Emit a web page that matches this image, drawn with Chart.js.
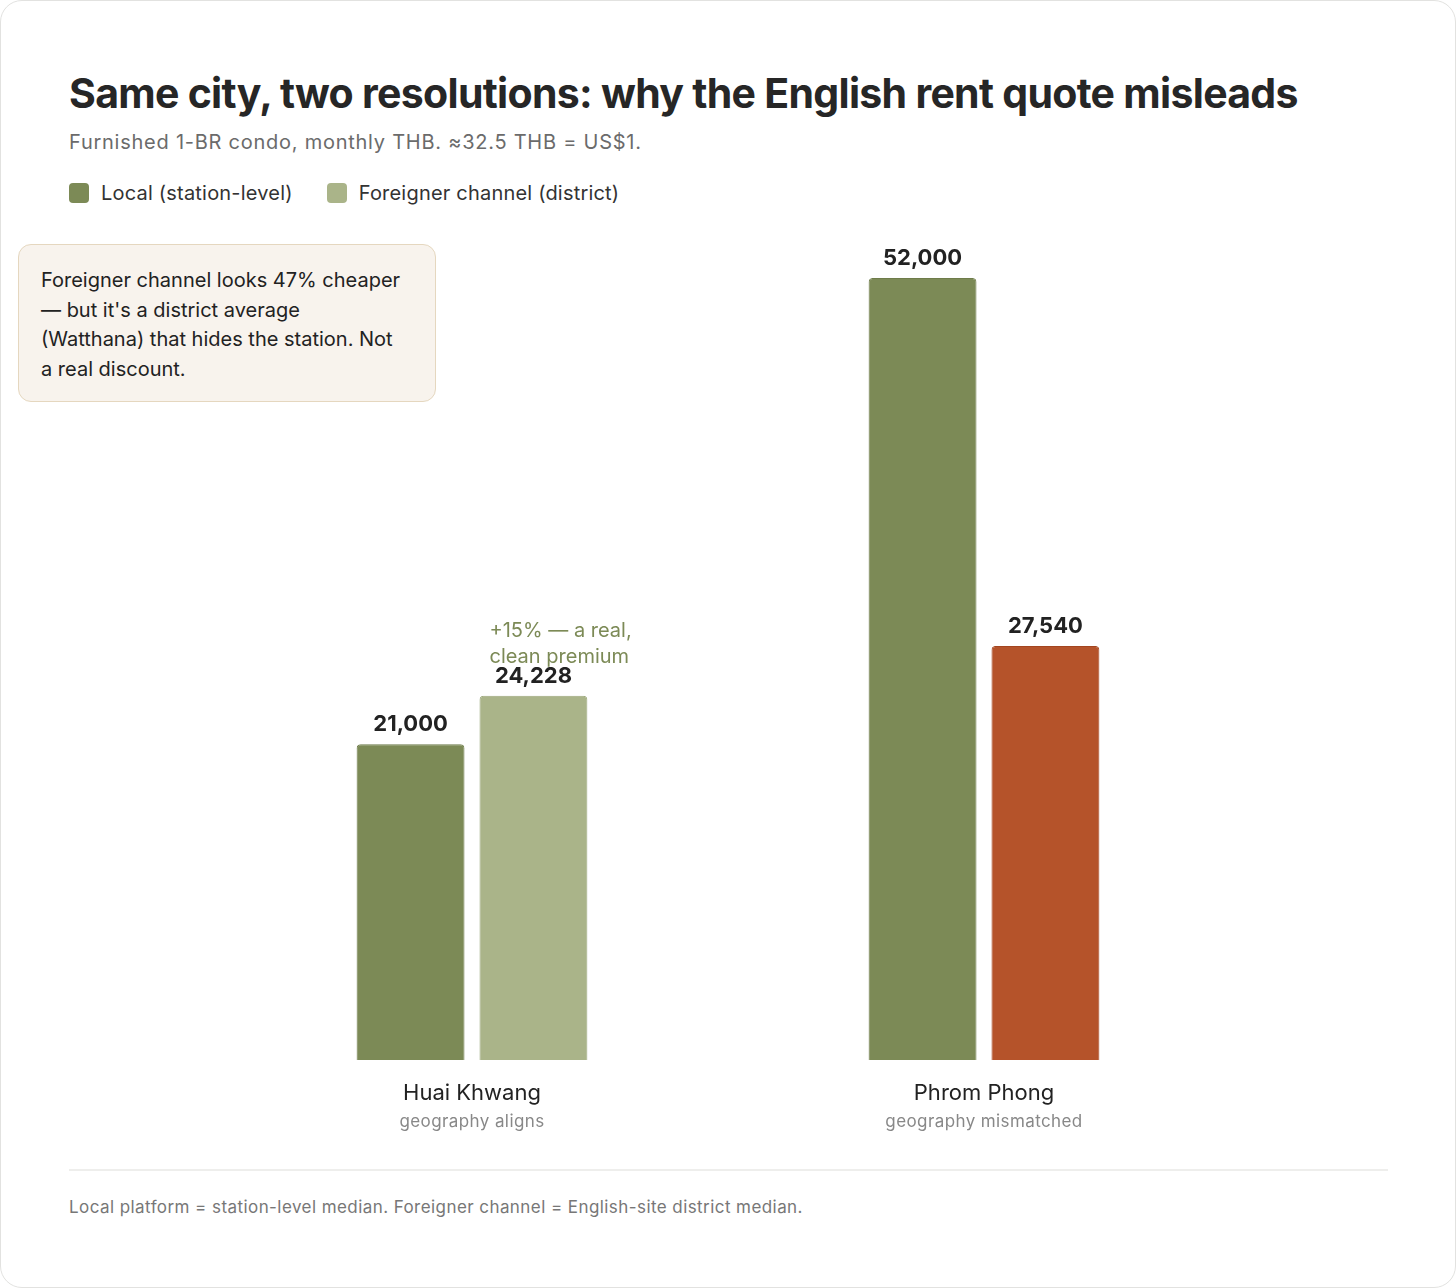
<!DOCTYPE html>
<html>
<head>
<meta charset="utf-8">
<script src="https://cdn.jsdelivr.net/npm/chart.js@4"></script>
<style>
  html, body { margin: 0; padding: 0; background: #fff; }
  body { width: 1456px; height: 1288px; position: relative; font-family: Inter, "Noto Sans", sans-serif; overflow: hidden; }
  .card { position: absolute; left: 0; top: 0; width: 1454px; height: 1286px; border: 1px solid #e2e2e0; border-radius: 22px; background: #fff; }
  h1 { position: absolute; left: 69px; top: 68px; margin: 0; font-size: 41px; font-weight: 700; color: #262626; letter-spacing: -0.7px; line-height: 50px; white-space: nowrap; }
  .sub { position: absolute; left: 69px; top: 129px; font-size: 20px; color: #6b6b6b; line-height: 26px; letter-spacing: 0.75px; white-space: nowrap; }
  .legend { position: absolute; left: 69px; top: 180px; display: flex; gap: 34px; font-size: 20px; color: #333; line-height: 26px; letter-spacing: 0.2px; }
  .legend span { display: flex; align-items: center; }
  .legend i { width: 20px; height: 20px; border-radius: 4px; margin-right: 12px; display: inline-block; }
  .callout { position: absolute; left: 18px; top: 244px; width: 372px; height: 114px; padding: 21px 22px 21px 22px; background: #f8f3ed; border: 1px solid #e5d7bf; border-radius: 13px; font-size: 20px; line-height: 29.5px; color: #222; white-space: nowrap; }
  #wrap { position: absolute; left: 0; top: 230px; width: 1456px; height: 920px; }
  .rule { position: absolute; left: 69px; top: 1169px; width: 1319px; height: 2px; background: #eeeeec; }
  .foot { position: absolute; left: 69px; top: 1196px; font-size: 17px; color: #777; line-height: 22px; letter-spacing: 0.43px; white-space: nowrap; }
</style>
</head>
<body>
<div class="card"></div>
<h1>Same city, two resolutions: why the English rent quote misleads</h1>
<div class="sub">Furnished 1-BR condo, monthly THB. ≈32.5 THB = US$1.</div>
<div class="legend">
  <span><i style="background:#7c8a56"></i>Local (station-level)</span>
  <span><i style="background:#aab489"></i>Foreigner channel (district)</span>
</div>
<div class="callout">Foreigner channel looks 47% cheaper<br>— but it's a district average<br>(Watthana) that hides the station. Not<br>a real discount.</div>
<div id="wrap"><canvas id="rentChart"></canvas></div>
<div class="rule"></div>
<div class="foot">Local platform = station-level median. Foreigner channel = English-site district median.</div>

<script>
const categories = ['Huai Khwang', 'Phrom Phong'];
const subLabels = ['geography aligns', 'geography mismatched'];
const localValues = [21000, 52000];
const foreignerValues = [24228, 27540];
const premiumNote = ['+15% — a real,', 'clean premium'];

const localColor = '#7c8a56';
const localBorder = '#6e7c4a';
const foreignerColors = ['#aab489', '#b5532a'];
const foreignerBorders = ['#9ba77a', '#a3451f'];

const FONT = 'Inter, "Noto Sans", sans-serif';

// value labels above bars + note above first foreigner bar + sublabels
const extras = {
  id: 'extras',
  afterDatasetsDraw(chart) {
    const ctx = chart.ctx;
    ctx.save();
    ctx.textAlign = 'center';
    ctx.textBaseline = 'alphabetic';
    ctx.fillStyle = '#222';
    ctx.font = '700 22px ' + FONT;
    chart.data.datasets.forEach((ds, di) => {
      chart.getDatasetMeta(di).data.forEach((bar, i) => {
        ctx.fillText(ds.data[i].toLocaleString('en-US'), bar.x, bar.y - 13);
      });
    });

    // note over the Huai Khwang foreigner bar
    const fb = chart.getDatasetMeta(1).data[0];
    ctx.textAlign = 'left';
    ctx.textBaseline = 'middle';
    ctx.fillStyle = '#7c8a56';
    ctx.font = '400 20px ' + FONT;
    premiumNote.forEach((line, k) => {
      ctx.fillText(line, fb.x - fb.width / 2 + 10, fb.y - 65 + k * 26);
    });

    // sublabels under categories
    const xs = chart.scales.x;
    ctx.textAlign = 'center';
    ctx.fillStyle = '#888';
    ctx.font = '400 17px ' + FONT;
    ctx.letterSpacing = '0.4px';
    subLabels.forEach((s, i) => {
      ctx.fillText(s, xs.getPixelForValue(i), chart.chartArea.bottom + 62);
    });
    ctx.restore();
  }
};

new Chart(document.getElementById('rentChart'), {
  type: 'bar',
  data: {
    labels: categories,
    datasets: [
      {
        label: 'Local (station-level)',
        data: localValues,
        backgroundColor: localColor,
        borderColor: localBorder,
        borderWidth: 1,
        borderRadius: { topLeft: 4, topRight: 4 },
        borderSkipped: 'bottom'
      },
      {
        label: 'Foreigner channel (district)',
        data: foreignerValues,
        backgroundColor: foreignerColors,
        borderColor: foreignerBorders,
        borderWidth: 1,
        borderRadius: { topLeft: 4, topRight: 4 },
        borderSkipped: 'bottom'
      }
    ]
  },
  options: {
    responsive: true,
    maintainAspectRatio: false,
    animation: false,
    categoryPercentage: 0.48,
    barPercentage: 0.878,
    layout: { padding: { left: 216, right: 216, top: 3, bottom: 0 } },
    plugins: {
      legend: { display: false },
      tooltip: { enabled: false }
    },
    scales: {
      x: {
        grid: { display: false, drawTicks: false },
        border: { display: false },
        ticks: { color: '#222', font: { family: FONT, size: 22 }, padding: 20 },
        afterFit(scale) { scale.height = 90; }
      },
      y: {
        display: false,
        min: 0,
        max: 55000
      }
    }
  },
  plugins: [extras]
});
</script>
</body>
</html>
